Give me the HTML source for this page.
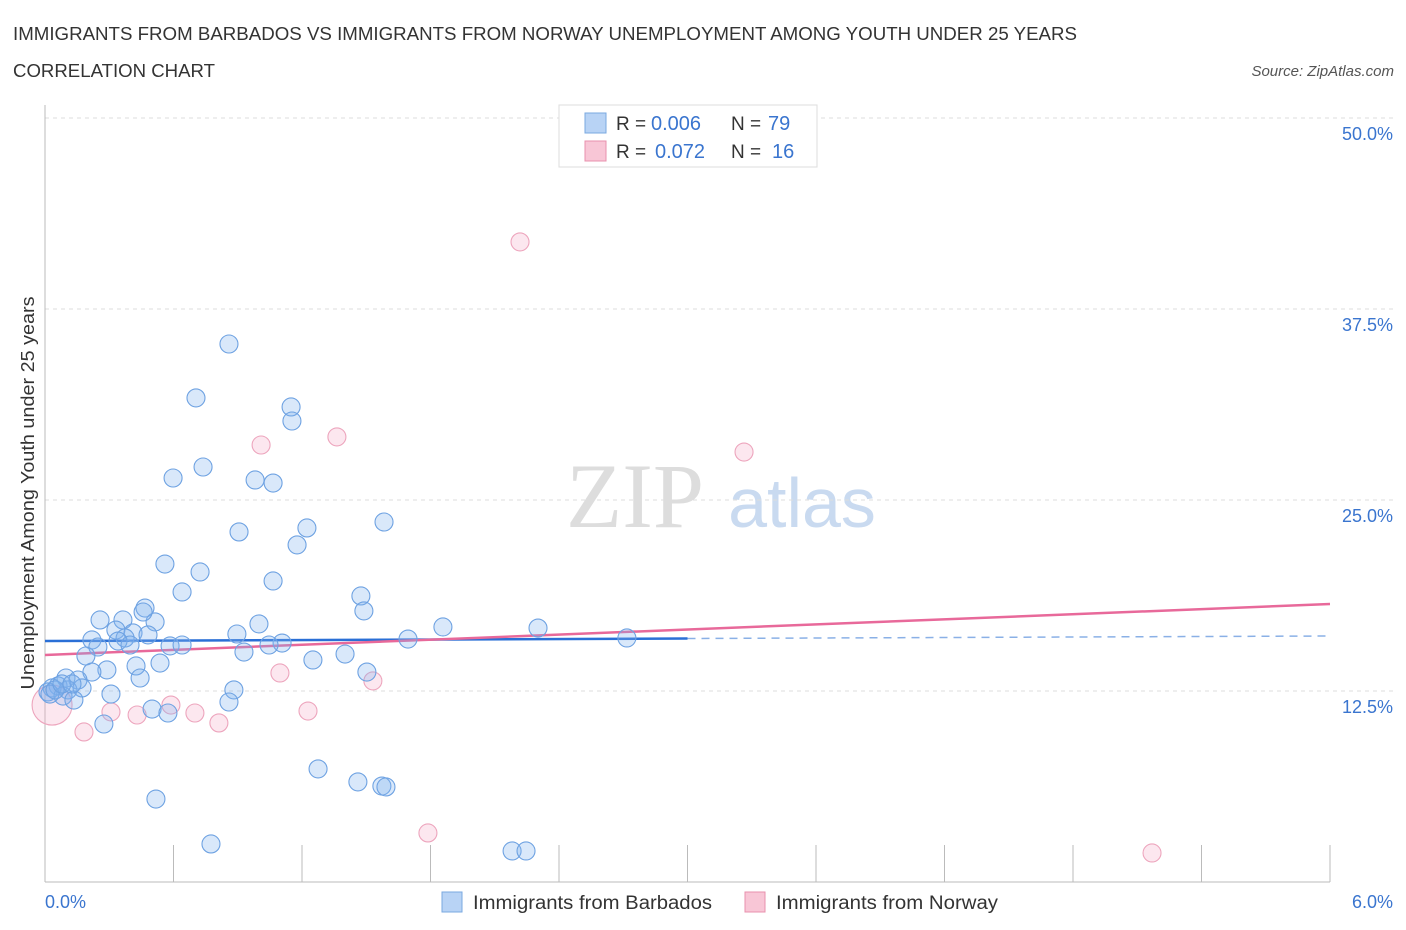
<!DOCTYPE html>
<html><head><meta charset="utf-8"><style>
body{margin:0;background:#fff;font-family:"Liberation Sans",sans-serif;}
svg{display:block}
</style></head><body>
<svg id="c" width="1406" height="930" xmlns="http://www.w3.org/2000/svg">
<text x="13" y="40" font-size="18.5" fill="#333" textLength="1064" lengthAdjust="spacingAndGlyphs">IMMIGRANTS FROM BARBADOS VS IMMIGRANTS FROM NORWAY UNEMPLOYMENT AMONG YOUTH UNDER 25 YEARS</text>
<text x="13" y="77" font-size="18.5" fill="#333" textLength="202" lengthAdjust="spacingAndGlyphs">CORRELATION CHART</text>
<text x="1394" y="76" font-size="15" fill="#555" font-style="italic" text-anchor="end">Source: ZipAtlas.com</text>
<g><text x="635" y="527" font-size="92" font-family="Liberation Serif,serif" fill="#ddd" text-anchor="middle">ZIP</text><text x="802" y="527" font-size="70" fill="#c9daf0" text-anchor="middle">atlas</text></g>
<g id="grid"></g><g id="axes"></g><g id="trend"></g><g id="pts"></g>
<text transform="translate(34,493) rotate(-90)" font-size="18" fill="#333" text-anchor="middle" textLength="393" lengthAdjust="spacingAndGlyphs">Unemployment Among Youth under 25 years</text>
<g>
<rect x="559" y="105" width="258" height="62" fill="#fff" stroke="#ddd"/>
<rect x="585" y="113" width="21" height="20" fill="#b8d3f5" stroke="#7aa8e0"/>
<rect x="585" y="141" width="21" height="20" fill="#f8c6d6" stroke="#e890ad"/>
<text x="616" y="130" font-size="19" fill="#333">R =</text><text x="651" y="130" font-size="20" fill="#3a75cf">0.006</text>
<text x="731" y="130" font-size="19" fill="#333">N =</text><text x="768" y="130" font-size="20" fill="#3a75cf">79</text>
<text x="616" y="158" font-size="19" fill="#333">R =</text><text x="655" y="158" font-size="20" fill="#3a75cf">0.072</text>
<text x="731" y="158" font-size="19" fill="#333">N =</text><text x="772" y="158" font-size="20" fill="#3a75cf">16</text>
</g>
<g>
<rect x="442" y="892" width="20" height="20" fill="#b8d3f5" stroke="#7aa8e0"/>
<text x="473" y="909" font-size="19" fill="#333" textLength="239" lengthAdjust="spacingAndGlyphs">Immigrants from Barbados</text>
<rect x="745" y="892" width="20" height="20" fill="#f8c6d6" stroke="#e890ad"/>
<text x="776" y="909" font-size="19" fill="#333" textLength="222" lengthAdjust="spacingAndGlyphs">Immigrants from Norway</text>
</g>
</svg>
<script>
const yTicks=[12.5,25,37.5,50];
const yTickLabels=["12.5%","25.0%","37.5%","50.0%"];
const xTickLabels=["0.0%","6.0%"];
const blueX=[0.859,0.705,1.149,1.153,0.738,0.598,0.981,1.065,0.906,1.223,1.583,1.177,0.560,0.724,1.065,0.640,1.475,1.489,0.467,0.257,0.364,0.514,0.458,0.999,0.896,1.858,2.302,2.717,1.695,0.331,0.411,0.481,0.374,0.341,0.219,0.397,0.584,0.640,1.107,1.046,0.929,1.401,0.247,0.191,1.251,0.537,0.425,0.289,0.219,0.444,1.503,0.098,0.154,0.061,0.107,0.173,0.033,0.014,0.084,0.135,0.308,0.882,0.859,0.500,0.574,0.275,1.275,1.461,1.573,1.592,0.518,0.775,2.181,2.246,0.023,0.047,0.079,0.126];
const blueY=[35.21,31.68,31.09,30.17,27.16,26.44,26.31,26.11,22.91,23.17,23.56,22.06,20.81,20.29,19.70,18.98,18.72,17.74,17.93,17.15,17.15,17.02,17.67,16.89,16.23,16.69,16.62,15.97,15.90,16.49,16.30,16.17,15.97,15.77,15.84,15.51,15.45,15.51,15.64,15.51,15.05,14.92,15.38,14.79,14.53,14.33,14.14,13.88,13.74,13.35,13.74,13.35,13.22,12.83,12.57,12.70,12.70,12.44,12.17,11.91,12.30,12.57,11.78,11.32,11.06,10.34,7.40,6.55,6.28,6.22,5.43,2.49,2.03,2.03,12.30,12.57,12.96,12.96];
const pinkX=[2.218,1.009,1.363,3.264,1.097,1.531,0.588,0.700,0.308,0.430,0.812,1.228,0.182,1.788,5.169,0.033];
const pinkY=[41.89,28.60,29.13,28.14,13.68,13.16,11.58,11.06,11.13,10.93,10.41,11.19,9.82,3.21,1.90,11.58];
const blueTrend=[15.77,16.1];
const pinkTrend=[14.86,18.19];
const X=v=>45+v/6*1285, Y=v=>882-v/50*764;
const NS="http://www.w3.org/2000/svg";
function mk(p,t,a){const e=document.createElementNS(NS,t);for(const k in a)e.setAttribute(k,a[k]);p.appendChild(e);return e;}
const g=document.getElementById('grid'),ax=document.getElementById('axes'),tr=document.getElementById('trend'),pts=document.getElementById('pts');
yTicks.forEach((t,i)=>{
 const l=mk(g,'line',{x1:45,x2:1395,y1:Y(t),y2:Y(t),stroke:'#ddd','stroke-dasharray':'4,4'});
 
 
 const tx=mk(ax,'text',{x:1393,y:Y(t)+22,'font-size':18,fill:'#3a75cf','text-anchor':'end'});tx.textContent=yTickLabels[i];
 
 
});
const yl=mk(ax,'line',{x1:45,x2:45,y1:105,y2:882,stroke:'#bbb'});


const xl=mk(ax,'line',{x1:45,x2:1330,y1:882,y2:882,stroke:'#bbb'});


for(let i=0;i<=10;i++){const x=45+i*128.5;const t=mk(ax,'line',{x1:x,x2:x,y1:845,y2:882,stroke:'#bbb'});
 
 }
[[0,45,'start'],[6,1393,'end']].forEach((d,i)=>{const t=mk(ax,'text',{x:d[1],y:908,'font-size':18,fill:'#3a75cf','text-anchor':d[2]});t.textContent=xTickLabels[i];
 
 });
function circ(xs,ys,fill,stroke,name){xs.forEach((x,i)=>{const c=mk(pts,'circle',{cx:X(x),cy:Y(ys[i]),r:(name==='norway-point'&&i===15)?20:9,fill:fill,stroke:stroke,'stroke-width':1.1});
 
 });}
circ(pinkX,pinkY,'rgba(244,170,196,0.28)','#eda5bd','norway-point');
circ(blueX,blueY,'rgba(130,178,238,0.3)','#6ea2e2','barbados-point');
const bm=blueTrend[0]+(blueTrend[1]-blueTrend[0])*0.5;
const b1=mk(tr,'line',{x1:X(0),y1:Y(blueTrend[0]),x2:X(3),y2:Y(bm),stroke:'#2a6fd6','stroke-width':2.5});


const b2=mk(tr,'line',{x1:X(3),y1:Y(bm),x2:X(6),y2:Y(blueTrend[1]),stroke:'#8ab0e6','stroke-width':1.5,'stroke-dasharray':'8,6'});


const p1=mk(tr,'line',{x1:X(0),y1:Y(pinkTrend[0]),x2:X(6),y2:Y(pinkTrend[1]),stroke:'#e8699a','stroke-width':2.5});


</script>
</body></html>
